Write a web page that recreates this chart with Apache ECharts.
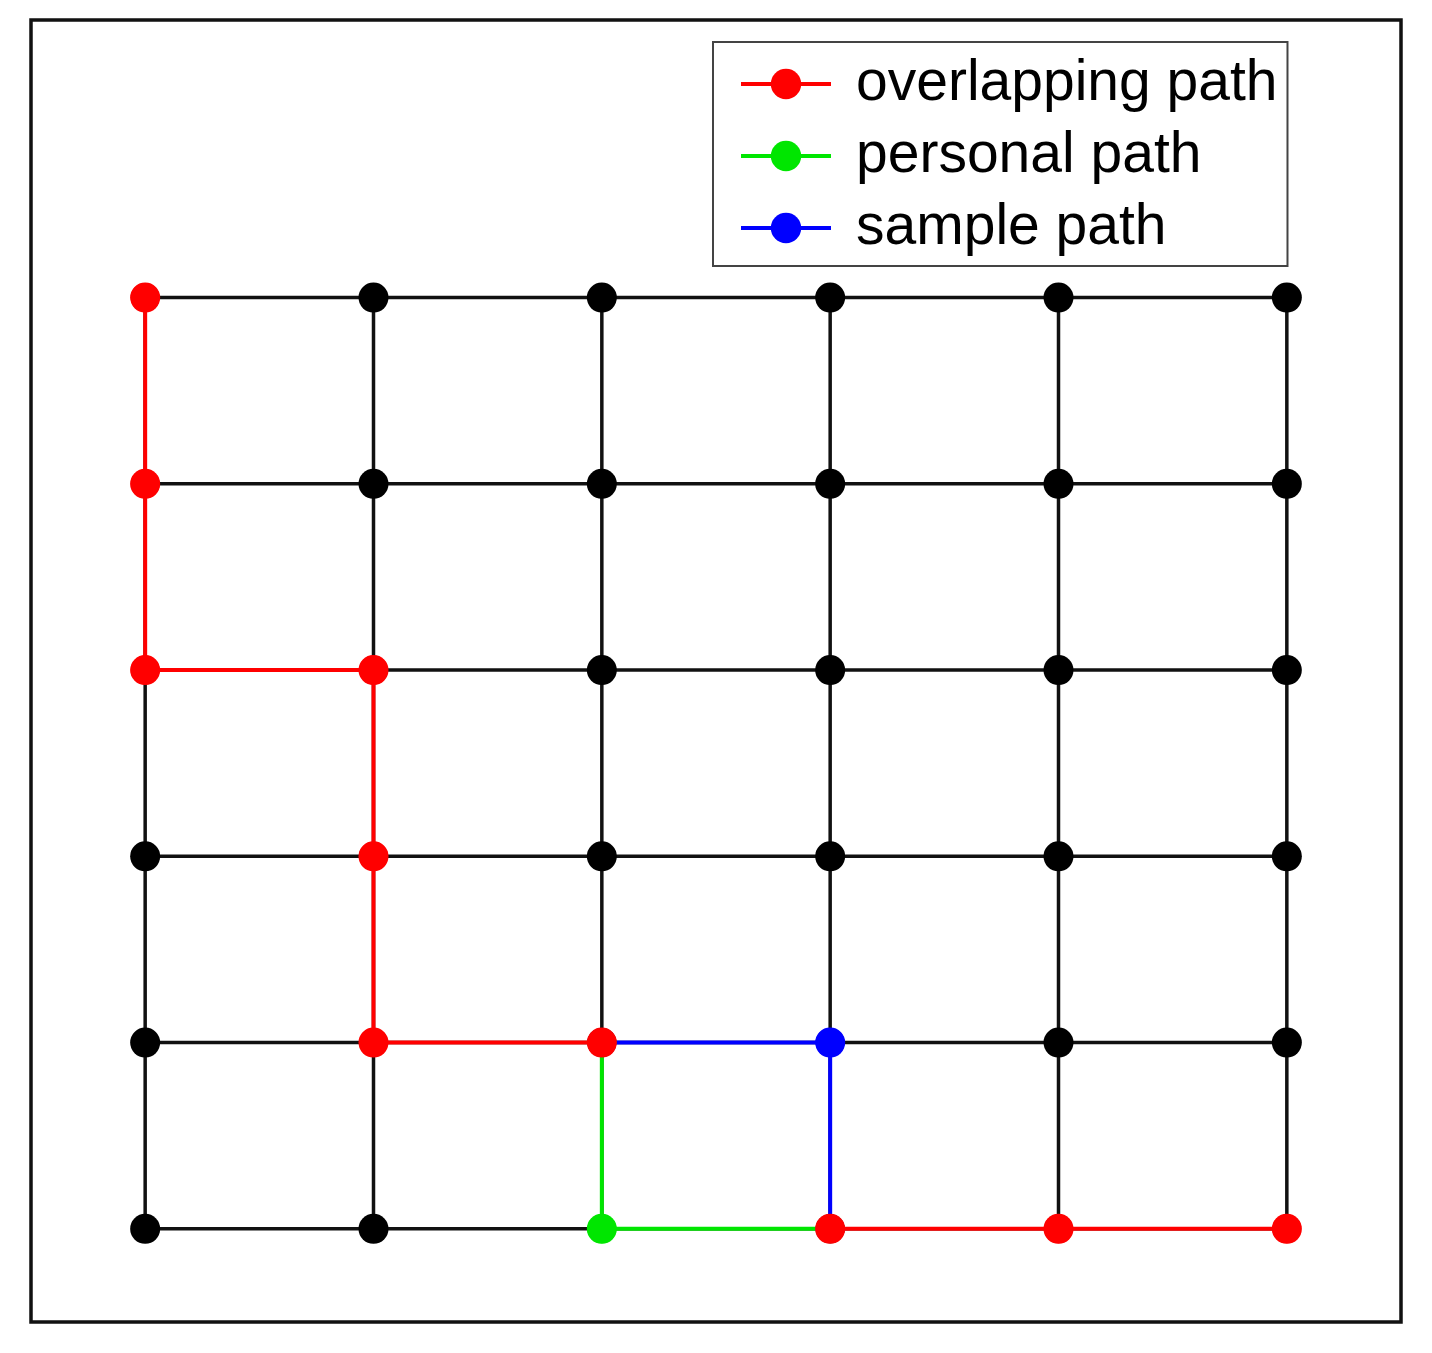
<!DOCTYPE html>
<html>
<head>
<meta charset="utf-8">
<script src="https://cdn.jsdelivr.net/npm/echarts@6/dist/echarts.min.js"></script>
<style>html,body{margin:0;padding:0;background:#fff}#c{width:1432px;height:1353px}</style>
</head>
<body>
<div id="c"></div>
<script>
// Data
const xNodes = [0, 1, 2, 3, 4, 5];
const yNodes = [0, 1, 2, 3, 4, 5];
const overlapPathA = [[0,5],[0,4],[0,3],[1,3],[1,2],[1,1],[2,1]];
const overlapPathB = [[3,0],[4,0],[5,0]];
const personalPath = [[2,1],[2,0],[3,0]];
const samplePath = [[2,1],[3,1],[3,0]];
const seriesNames = ['overlapping path', 'personal path', 'sample path'];

const RED = '#ff0000', GREEN = '#00e600', BLUE = '#0000ff', BLACK = '#000000';

const key = p => p[0] + ',' + p[1];
const redSet = new Set(overlapPathA.concat(overlapPathB).map(key));
const greenSet = new Set(personalPath.map(key));
const blueSet = new Set(samplePath.map(key));

const series = [];
// black grid lines
yNodes.forEach(y => {
  series.push({ type: 'line', silent: true, showSymbol: false, symbol: 'none', z: 1,
    lineStyle: { color: '#111', width: 3.5 },
    data: [[xNodes[0], y], [xNodes[xNodes.length - 1], y]] });
});
xNodes.forEach(x => {
  series.push({ type: 'line', silent: true, showSymbol: false, symbol: 'none', z: 1,
    lineStyle: { color: '#111', width: 3.5 },
    data: [[x, yNodes[0]], [x, yNodes[yNodes.length - 1]]] });
});
// colored paths
const pathDefs = [
  [seriesNames[0], overlapPathA, RED],
  [seriesNames[0], overlapPathB, RED],
  [seriesNames[1], personalPath, GREEN],
  [seriesNames[2], samplePath, BLUE]
];
pathDefs.forEach(([name, pts, col]) => {
  series.push({ type: 'line', name: name, silent: true, z: 2,
    symbol: 'circle', symbolSize: 29, showSymbol: true,
    lineStyle: { color: col, width: 4 }, itemStyle: { color: col, opacity: 1 },
    data: pts });
});
// nodes
const nodes = [];
xNodes.forEach(x => yNodes.forEach(y => {
  const k = key([x, y]);
  let c = BLACK;
  if (redSet.has(k)) c = RED;
  else if (greenSet.has(k)) c = GREEN;
  else if (blueSet.has(k)) c = BLUE;
  nodes.push({ value: [x, y], itemStyle: { color: c, opacity: 1 } });
}));
series.push({ type: 'scatter', silent: true, z: 3, symbol: 'circle', symbolSize: 30,
  itemStyle: { opacity: 1 }, data: nodes });

const chart = echarts.init(document.getElementById('c'), null, { renderer: 'canvas' });
chart.setOption({
  animation: false,
  backgroundColor: '#ffffff',
  grid: { left: 31, right: 31, top: 20, bottom: 31, show: true, borderColor: '#111', borderWidth: 3.5, backgroundColor: '#ffffff' },
  xAxis: { type: 'value', min: -0.5, max: 5.5, show: false },
  yAxis: { type: 'value', min: -0.5, max: 6.49, show: false },
  legend: {
    data: seriesNames,
    orient: 'vertical',
    left: 713, top: 42,
    padding: [12, 10, 8, 26],
    itemWidth: 90, itemHeight: 38,
    itemGap: 12,
    backgroundColor: '#ffffff',
    borderColor: '#444', borderWidth: 2,
    selectedMode: false,
    lineStyle: { width: 4 },
    textStyle: { fontFamily: 'Liberation Sans, Arial, sans-serif', fontSize: 57, color: '#000', lineHeight: 60, padding: [0, 0, 0, 20] }
  },
  series: series
});
</script>
</body>
</html>
